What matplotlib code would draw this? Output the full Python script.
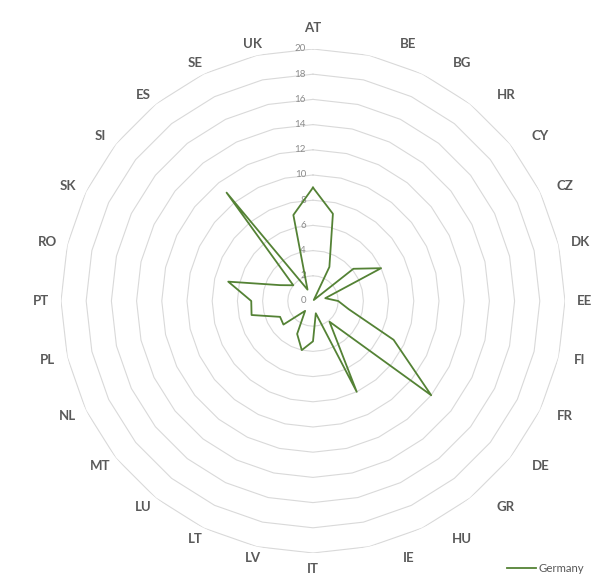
import numpy as np
import matplotlib.pyplot as plt

countries = ["AT", "BE", "BG", "HR", "CY", "CZ", "DK", "EE", "FI", "FR",
             "DE", "GR", "HU", "IE", "IT", "LV", "LT", "LU", "MT", "NL",
             "PL", "PT", "RO", "SK", "SI", "ES", "SE", "UK"]
germany = [9.0, 7.1, 3.0, 0.1, 4.1, 6.0, 1.0, 2.0, 2.9, 7.1,
           12.0, 2.1, 8.0, 1.0, 3.2, 4.0, 2.9, 1.0, 3.0, 2.9,
           5.0, 4.9, 6.9, 2.9, 2.0, 11.0, 1.0, 7.0]
rings = list(range(0, 21, 2))

plt.rcParams["font.family"] = ["Lato", "DejaVu Sans"]

n = len(countries)
angles = np.linspace(0, 2 * np.pi, n, endpoint=False)
closed = np.append(angles, angles[0])

fig = plt.figure(figsize=(5.92, 5.78), dpi=100)
ax = fig.add_axes([0.1030, 0.04325, 0.8514, 0.872], projection="polar")
ax.set_theta_offset(np.pi / 2)
ax.set_theta_direction(-1)
ax.set_ylim(0, 20)
ax.grid(False)
ax.spines["polar"].set_visible(False)
ax.set_xticks([])
ax.set_yticks([])

# polygon gridlines
for r in rings[1:]:
    ax.plot(closed, [r] * (n + 1), color="#d9d9d9", lw=0.8, zorder=1)

# value labels up the first axis
for r in rings:
    ax.annotate(str(r), xy=(0, r), xytext=(-5, 0), textcoords="offset points",
                ha="right", va="center", fontsize=7, color="#8c8c8c")

# category labels, offset in pixels from the centre
for a, c in zip(angles, countries):
    s, co = np.sin(a), np.cos(a)
    dx = 272 * s
    if s > 0.05:
        dx += min(35, 38 * co ** 2)
    if abs(s) < 0.05:
        ry = 273 if co > 0 else 268
    else:
        ry = 264
    ax.annotate(c, xy=(0, 0), xytext=(dx, ry * co), textcoords="offset pixels",
                ha="center", va="center", fontsize=9.5, annotation_clip=False,
                fontweight="bold", color="#595959")

ax.plot(closed, germany + germany[:1], color="#548235", lw=1.3,
        label="Germany", zorder=3)

ax.legend(loc="center", bbox_to_anchor=(0.921, 0.016),
          bbox_transform=fig.transFigure, frameon=False, fontsize=8.2,
          handlelength=2.6, handletextpad=0.15, labelcolor="#595959")

plt.savefig("out.png", dpi=100)
